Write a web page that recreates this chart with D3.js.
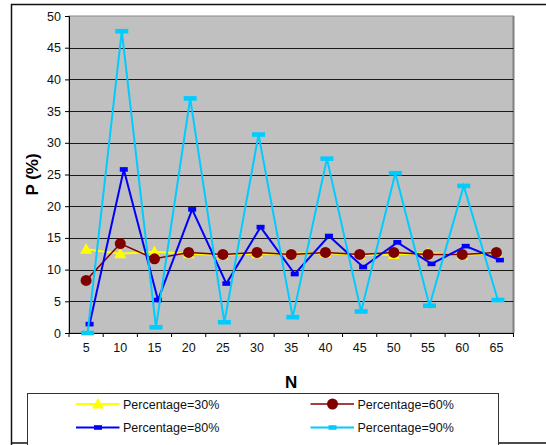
<!DOCTYPE html>
<html>
<head>
<meta charset="utf-8">
<script src="https://cdn.jsdelivr.net/npm/d3@7"></script>
<style>
  body { margin: 0; background: #fff; }
  svg { display: block; font-family: Arial, "Liberation Sans", sans-serif; }
</style>
</head>
<body>
<svg id="chart" width="546" height="445"></svg>
<script>
// data
const nValues = ["5", "10", "15", "20", "25", "30", "35", "40", "45", "50", "55", "60", "65"];
const yTicks = [0, 5, 10, 15, 20, 25, 30, 35, 40, 45, 50];
const p30 = [13.2, 12.5, 12.8, 12.5, 12.3, 12.5, 12.5, 12.6, 12.3, 12.4, 12.6, 12.3, 12.6];
const p60 = [8.3, 14.1, 11.7, 12.7, 12.4, 12.7, 12.4, 12.7, 12.4, 12.7, 12.4, 12.4, 12.7];
const p80 = [1.4, 25.8, 5.2, 19.5, 7.8, 16.7, 9.3, 15.3, 10.4, 14.3, 10.9, 13.7, 11.5];
const p90 = [0, 47.6, 0.9, 37.0, 1.7, 31.3, 2.5, 27.5, 3.4, 25.2, 4.3, 23.2, 5.2];
const seriesNames = ["Percentage=30%", "Percentage=60%", "Percentage=80%", "Percentage=90%"];

const series = [
  { name: seriesNames[0], values: p30, color: "#ffff00", width: 2, marker: "triangle", dx: 0 },
  { name: seriesNames[1], values: p60, color: "#800000", width: 1.5, marker: "circle", dx: 0 },
  { name: seriesNames[2], values: p80, color: "#0000ff", width: 2, marker: "blueRect", dx: 3.5 },
  { name: seriesNames[3], values: p90, color: "#00ccff", width: 2, marker: "cyanRect", dx: 1.5 }
];

const svg = d3.select("#chart");

// outer frame
svg.append("path")
  .attr("d", "M11.5,445 V4.5 H546")
  .attr("fill", "none")
  .attr("stroke", "#111")
  .attr("stroke-width", 1.5);
svg.append("line")
  .attr("x1", 11).attr("x2", 546).attr("y1", 443).attr("y2", 443)
  .attr("stroke", "#111").attr("stroke-width", 1.5);

const plot = { left: 69, right: 513.5, top: 16, bottom: 333 };

const x = d3.scaleBand()
  .domain(nValues)
  .range([plot.left, plot.right])
  .padding(0);

const y = d3.scaleLinear()
  .domain([0, 50])
  .range([plot.bottom, plot.top]);

// plot area
svg.append("rect")
  .attr("x", plot.left).attr("y", plot.top)
  .attr("width", plot.right - plot.left).attr("height", plot.bottom - plot.top)
  .attr("fill", "#c0c0c0")
  .attr("stroke", "#8a8a8a")
  .attr("stroke-width", 1);
svg.append("line")
  .attr("x1", plot.right).attr("x2", plot.right)
  .attr("y1", plot.top).attr("y2", plot.bottom)
  .attr("stroke", "#808080").attr("stroke-width", 2);

// gridlines
svg.append("g")
  .selectAll("line")
  .data(yTicks.filter(d => d > 0 && d < 50))
  .join("line")
  .attr("x1", plot.left).attr("x2", plot.right)
  .attr("y1", d => Math.round(y(d)) + 0.5).attr("y2", d => Math.round(y(d)) + 0.5)
  .attr("stroke", "#1a1a1a")
  .attr("stroke-width", 1);

// y axis
const yAxis = svg.append("g")
  .attr("transform", `translate(${plot.left},0)`)
  .call(d3.axisLeft(y).tickValues(yTicks).tickSize(4).tickPadding(4));
yAxis.select(".domain").attr("stroke", "#000");
yAxis.selectAll("text").attr("font-size", 12.5).attr("fill", "#111")
  .attr("font-family", "Arial, 'Liberation Sans', sans-serif");

// x axis
const xAxis = svg.append("g")
  .attr("transform", `translate(0,${plot.bottom})`)
  .call(d3.axisBottom(x).tickSize(0).tickPadding(10).tickSizeOuter(0));
xAxis.select(".domain").attr("stroke", "#000");
xAxis.selectAll("text").attr("font-size", 12.5).attr("fill", "#111")
  .attr("font-family", "Arial, 'Liberation Sans', sans-serif");
// tick marks on category boundaries
xAxis.selectAll(".bound")
  .data(nValues.concat(["end"]))
  .join("line")
  .attr("class", "bound")
  .attr("x1", (d, i) => plot.left + i * x.bandwidth())
  .attr("x2", (d, i) => plot.left + i * x.bandwidth())
  .attr("y1", 0).attr("y2", 4)
  .attr("stroke", "#000");

// axis titles
svg.append("text")
  .attr("transform", `translate(38,${(plot.top + plot.bottom) / 2}) rotate(-90)`)
  .attr("text-anchor", "middle")
  .attr("font-size", 17)
  .attr("font-weight", "bold")
  .text("P (%)");
svg.append("text")
  .attr("x", (plot.left + plot.right) / 2)
  .attr("y", 388)
  .attr("text-anchor", "middle")
  .attr("font-size", 17)
  .attr("font-weight", "bold")
  .text("N");

// markers
function drawMarker(g, type, color, cx, cy) {
  if (type === "triangle") {
    g.append("path")
      .attr("d", `M${cx},${cy - 6} L${cx + 6},${cy + 4.5} L${cx - 6},${cy + 4.5} Z`)
      .attr("fill", color);
  } else if (type === "circle") {
    g.append("circle").attr("cx", cx).attr("cy", cy).attr("r", 5.5).attr("fill", color);
  } else if (type === "blueRect") {
    g.append("rect").attr("x", cx - 4).attr("y", cy - 2.3).attr("width", 8).attr("height", 4.6).attr("fill", color);
  } else {
    g.append("rect").attr("x", cx - 6.5).attr("y", cy - 2.3).attr("width", 13).attr("height", 4.6).attr("fill", color);
  }
}

const cx = (d, i, s) => x(nValues[i]) + x.bandwidth() / 2 + s.dx;

series.forEach(s => {
  const line = d3.line()
    .x((d, i) => cx(d, i, s))
    .y(d => y(d));
  const g = svg.append("g");
  g.append("path")
    .datum(s.values)
    .attr("d", line)
    .attr("fill", "none")
    .attr("stroke", s.color)
    .attr("stroke-width", s.width);
  s.values.forEach((v, i) => drawMarker(g, s.marker, s.color, cx(v, i, s), y(v)));
});

// legend
svg.append("rect")
  .attr("x", 27.5).attr("y", 393.5)
  .attr("width", 471).attr("height", 52)
  .attr("fill", "#fff")
  .attr("stroke", "#333");

const legendPos = [[76, 404], [310.5, 404], [76, 427.5], [310.5, 427.5]];
series.forEach((s, i) => {
  const [lx, ly] = legendPos[i];
  const g = svg.append("g");
  g.append("line")
    .attr("x1", lx).attr("x2", lx + 43.5)
    .attr("y1", ly).attr("y2", ly)
    .attr("stroke", s.color).attr("stroke-width", s.width);
  drawMarker(g, s.marker === "cyanRect" ? "blueRect" : s.marker, s.color, lx + 22, ly);
  g.append("text")
    .attr("x", lx + 47)
    .attr("y", ly + 4.5)
    .attr("font-size", 12.5)
    .attr("fill", "#111")
    .text(s.name);
});
</script>
</body>
</html>
